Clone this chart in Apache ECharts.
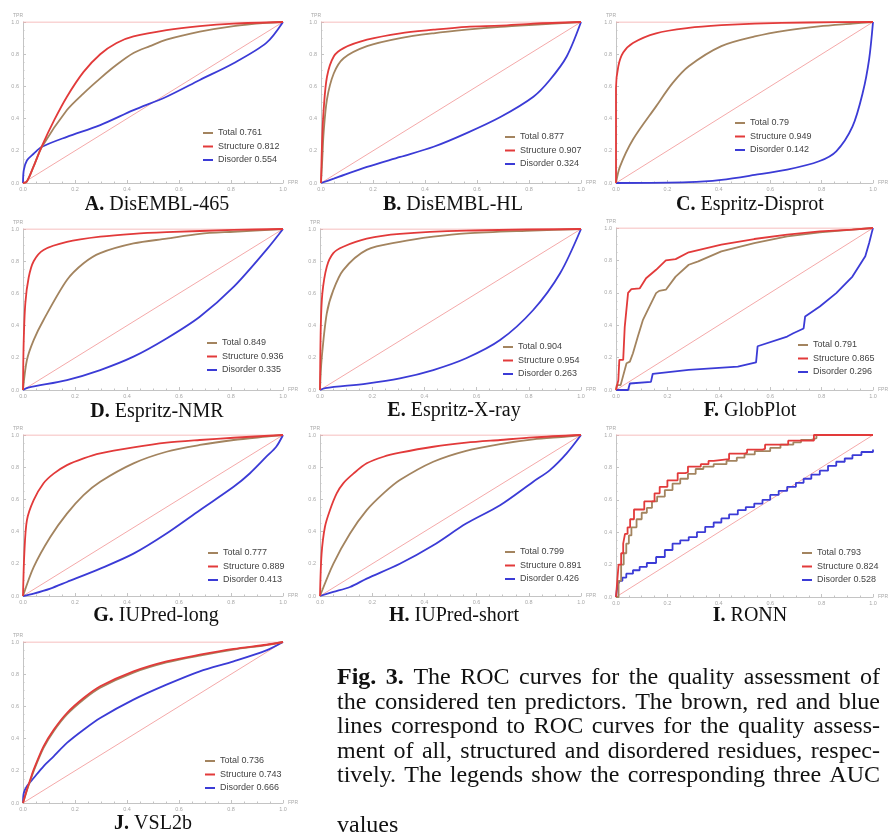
<!DOCTYPE html>
<html><head><meta charset="utf-8">
<script src="https://cdn.jsdelivr.net/npm/echarts@6/dist/echarts.min.js"></script>
<style>html,body{margin:0;padding:0;background:#fff}#c{width:889px;height:834px}</style>
</head><body><div id="c"></div>
<script>
// ---------------- DATA ----------------
const panelLetters = ['A.','B.','C.','D.','E.','F.','G.','H.','I.','J.'];
const panelNames = ['DisEMBL-465','DisEMBL-HL','Espritz-Disprot','Espritz-NMR','Espritz-X-ray','GlobPlot','IUPred-long','IUPred-short','RONN','VSL2b'];
const seriesLabels = ['Total','Structure','Disorder'];
const aucTotal = [0.761,0.877,0.79,0.849,0.904,0.791,0.777,0.799,0.793,0.736];
const aucStructure = [0.812,0.907,0.949,0.936,0.954,0.865,0.889,0.891,0.824,0.743];
const aucDisorder = [0.554,0.324,0.142,0.335,0.263,0.296,0.413,0.426,0.528,0.666];
const tickLabels = ['0.0','0.2','0.4','0.6','0.8','1.0'];
const refTop = [[0,1],[1,1]];
const refDiag = [[0,0],[1,1]];

// A. DisEMBL-465
const totalA = [[0,0],[0.015,0.01],[0.04,0.1],[0.073,0.225],[0.169,0.453],[0.233,0.557],[0.297,0.65],[0.36,0.734],[0.425,0.807],[0.488,0.85],[0.552,0.89],[0.68,0.94],[0.81,0.975],[0.936,0.995],[1,1]];
const structA = [[0,0],[0.015,0.01],[0.04,0.1],[0.073,0.23],[0.12,0.39],[0.169,0.536],[0.233,0.69],[0.297,0.80],[0.36,0.87],[0.425,0.91],[0.552,0.95],[0.68,0.975],[0.81,0.99],[1,1]];
const disordA = [[0,0],[0.003,0.08],[0.015,0.14],[0.04,0.18],[0.073,0.225],[0.169,0.287],[0.297,0.36],[0.425,0.453],[0.552,0.536],[0.68,0.64],[0.81,0.744],[0.936,0.87],[1,1]];
// B. DisEMBL-HL
const totalB = [[0,0],[0.005,0.15],[0.01,0.31],[0.023,0.52],[0.049,0.68],[0.087,0.775],[0.177,0.85],[0.305,0.90],[0.433,0.93],[0.56,0.952],[0.69,0.97],[0.817,0.983],[1,1]];
const structB = [[0,0],[0.004,0.25],[0.01,0.45],[0.023,0.66],[0.049,0.786],[0.087,0.838],[0.177,0.89],[0.305,0.93],[0.433,0.952],[0.56,0.97],[0.69,0.977],[0.817,0.99],[1,1]];
const disordB = [[0,0],[0.049,0.027],[0.177,0.10],[0.305,0.162],[0.433,0.225],[0.56,0.31],[0.69,0.41],[0.817,0.536],[0.88,0.64],[0.945,0.786],[1,1]];
// C. Espritz-Disprot
const totalC = [[0,0],[0.015,0.10],[0.066,0.27],[0.156,0.476],[0.22,0.62],[0.283,0.725],[0.41,0.85],[0.54,0.91],[0.666,0.948],[0.79,0.973],[0.92,0.99],[1,1]];
const structC = [[0,0],[0,0.59],[0.009,0.725],[0.028,0.81],[0.066,0.87],[0.156,0.93],[0.283,0.963],[0.41,0.98],[0.54,0.99],[0.75,0.997],[1,1]];
const disordC = [[0,0],[0.283,0.005],[0.41,0.02],[0.54,0.05],[0.666,0.083],[0.79,0.135],[0.857,0.197],[0.92,0.35],[0.96,0.56],[0.985,0.77],[1,1]];
// D. Espritz-NMR
const totalD = [[0,0],[0.015,0.186],[0.041,0.31],[0.079,0.435],[0.169,0.683],[0.233,0.787],[0.297,0.85],[0.425,0.91],[0.552,0.94],[0.68,0.97],[0.81,0.983],[1,1]];
const structD = [[0,0],[0.0025,0.29],[0.009,0.54],[0.022,0.70],[0.041,0.80],[0.079,0.87],[0.169,0.92],[0.297,0.952],[0.425,0.97],[0.552,0.98],[0.81,0.994],[1,1]];
const disordD = [[0,0],[0.02,0.015],[0.169,0.062],[0.297,0.124],[0.425,0.207],[0.552,0.32],[0.68,0.455],[0.81,0.64],[0.936,0.87],[1,1]];
// E. Espritz-X-ray
const totalE = [[0,0],[0.006,0.186],[0.026,0.476],[0.051,0.62],[0.089,0.745],[0.179,0.87],[0.306,0.92],[0.434,0.952],[0.56,0.973],[0.817,0.99],[1,1]];
const structE = [[0,0],[0.003,0.39],[0.009,0.60],[0.026,0.766],[0.051,0.85],[0.089,0.89],[0.179,0.94],[0.306,0.97],[0.56,0.99],[1,1]];
const disordE = [[0,0],[0.02,0.012],[0.179,0.04],[0.306,0.072],[0.434,0.124],[0.56,0.197],[0.69,0.31],[0.817,0.497],[0.92,0.725],[1,1]];
// F. GlobPlot
const totalF = [[0,0],[0.003,0.03],[0.018,0.03],[0.041,0.165],[0.054,0.175],[0.066,0.227],[0.085,0.33],[0.105,0.433],[0.13,0.515],[0.156,0.598],[0.168,0.612],[0.194,0.619],[0.232,0.70],[0.283,0.773],[0.32,0.794],[0.41,0.856],[0.538,0.907],[0.666,0.948],[0.793,0.973],[0.92,0.99],[1,1]];
const structF = [[0,0],[0.009,0.06],[0.013,0.186],[0.028,0.186],[0.034,0.39],[0.047,0.60],[0.06,0.623],[0.092,0.627],[0.117,0.69],[0.156,0.742],[0.194,0.80],[0.232,0.808],[0.283,0.85],[0.41,0.897],[0.538,0.932],[0.666,0.959],[0.793,0.979],[0.92,0.99],[1,1]];
const disordF = [[0,0],[0.047,0],[0.054,0.04],[0.136,0.05],[0.143,0.10],[0.283,0.124],[0.474,0.144],[0.545,0.17],[0.551,0.27],[0.666,0.33],[0.69,0.35],[0.73,0.38],[0.736,0.454],[0.793,0.515],[0.857,0.598],[0.92,0.70],[0.97,0.825],[0.985,0.907],[0.995,0.97],[1,1]];
// G. IUPred-long
const totalG = [[0,0],[0.041,0.18],[0.105,0.367],[0.169,0.512],[0.233,0.627],[0.297,0.71],[0.425,0.824],[0.552,0.896],[0.68,0.938],[0.81,0.969],[0.936,0.99],[1,1]];
const structG = [[0,0],[0.005,0.26],[0.015,0.47],[0.041,0.595],[0.079,0.70],[0.118,0.76],[0.169,0.813],[0.233,0.855],[0.297,0.886],[0.425,0.923],[0.552,0.952],[0.68,0.969],[0.81,0.983],[1,1]];
const disordG = [[0,0],[0.041,0.015],[0.105,0.046],[0.169,0.087],[0.297,0.17],[0.425,0.263],[0.552,0.388],[0.68,0.533],[0.81,0.678],[0.872,0.761],[0.936,0.865],[0.974,0.927],[1,1]];
// H. IUPred-short
const totalH = [[0,0],[0.051,0.20],[0.115,0.388],[0.179,0.533],[0.243,0.637],[0.306,0.72],[0.434,0.834],[0.56,0.902],[0.69,0.944],[0.817,0.973],[0.945,0.99],[1,1]];
const structH = [[0,0],[0.006,0.26],[0.019,0.43],[0.038,0.533],[0.064,0.637],[0.089,0.70],[0.128,0.76],[0.179,0.824],[0.243,0.865],[0.306,0.89],[0.434,0.927],[0.56,0.952],[0.69,0.969],[0.817,0.985],[1,1]];
const disordH = [[0,0],[0.051,0.025],[0.115,0.056],[0.179,0.108],[0.306,0.20],[0.434,0.315],[0.56,0.45],[0.69,0.564],[0.817,0.71],[0.881,0.782],[0.945,0.886],[1,1]];
// I. RONN
const totalI = [[0,0],[0.01,0.1],[0.02,0.2],[0.03,0.27],[0.04,0.33],[0.05,0.38],[0.06,0.43],[0.08,0.48],[0.1,0.52],[0.12,0.55],[0.14,0.59],[0.16,0.62],[0.19,0.66],[0.22,0.70],[0.25,0.73],[0.28,0.76],[0.31,0.79],[0.34,0.805],[0.38,0.82],[0.43,0.84],[0.47,0.86],[0.5,0.88],[0.54,0.9],[0.6,0.92],[0.64,0.94],[0.69,0.955],[0.72,0.97],[0.76,0.98],[0.78,1],[1,1]];
const structI = [[0,0],[0.005,0.1],[0.01,0.2],[0.02,0.27],[0.028,0.33],[0.035,0.39],[0.045,0.43],[0.055,0.48],[0.07,0.54],[0.1,0.54],[0.11,0.59],[0.14,0.59],[0.15,0.64],[0.17,0.68],[0.2,0.72],[0.23,0.72],[0.24,0.765],[0.27,0.77],[0.28,0.805],[0.33,0.82],[0.36,0.84],[0.38,0.85],[0.43,0.85],[0.44,0.885],[0.5,0.89],[0.51,0.91],[0.57,0.915],[0.58,0.94],[0.66,0.94],[0.67,0.965],[0.76,0.965],[0.77,1],[1,1]];
const disordI = [[0,0],[0.003,0.04],[0.008,0.08],[0.015,0.10],[0.025,0.12],[0.04,0.144],[0.066,0.165],[0.092,0.186],[0.12,0.21],[0.156,0.247],[0.19,0.29],[0.22,0.33],[0.25,0.35],[0.283,0.37],[0.315,0.40],[0.347,0.433],[0.38,0.46],[0.41,0.485],[0.44,0.51],[0.474,0.536],[0.505,0.555],[0.538,0.577],[0.57,0.60],[0.60,0.63],[0.633,0.655],[0.666,0.68],[0.70,0.705],[0.73,0.73],[0.76,0.755],[0.793,0.78],[0.825,0.81],[0.857,0.835],[0.89,0.855],[0.92,0.876],[0.955,0.895],[1,0.911]];
// J. VSL2b
const totalJ = [[0,0],[0.015,0.078],[0.028,0.138],[0.041,0.198],[0.079,0.342],[0.118,0.446],[0.169,0.55],[0.233,0.643],[0.297,0.716],[0.425,0.81],[0.552,0.873],[0.68,0.916],[0.81,0.953],[0.936,0.981],[1,1]];
const structJ = [[0,0],[0.015,0.083],[0.028,0.145],[0.041,0.207],[0.079,0.352],[0.118,0.455],[0.169,0.559],[0.233,0.652],[0.297,0.725],[0.425,0.818],[0.552,0.88],[0.68,0.921],[0.81,0.957],[0.936,0.983],[1,1]];
const disordJ = [[0,0],[0.003,0.062],[0.015,0.104],[0.041,0.155],[0.079,0.228],[0.118,0.29],[0.169,0.373],[0.233,0.455],[0.297,0.528],[0.425,0.642],[0.552,0.735],[0.68,0.818],[0.81,0.88],[0.936,0.948],[1,1]];

const totalCurves = [totalA,totalB,totalC,totalD,totalE,totalF,totalG,totalH,totalI,totalJ];
const structCurves = [structA,structB,structC,structD,structE,structF,structG,structH,structI,structJ];
const disordCurves = [disordA,disordB,disordC,disordD,disordE,disordF,disordG,disordH,disordI,disordJ];

const captionLines = [
  'Fig. 3. The ROC curves for the quality assessment of',
  'the considered ten predictors. The brown, red and blue',
  'lines correspond to ROC curves for the quality assess-',
  'ment of all, structured and disordered residues, respec-',
  'tively. The legends show the corresponding three AUC',
  'values'
];

// ---------------- LAYOUT / STYLE ----------------
const layout = [
  {g:[23,22,260,161],  leg:[203,128], cap:[157,212], mode:'smooth'},
  {g:[321,22,260,161], leg:[505,132], cap:[453,212], mode:'smooth'},
  {g:[616,22,261,161], leg:[735,118], cap:[750,212], mode:'smooth'},
  {g:[23,229,260,161], leg:[207,338], cap:[157,419], mode:'smooth'},
  {g:[320,229,261,161],leg:[503,342], cap:[454,418], mode:'smooth'},
  {g:[616,228,261,162],leg:[798,340], cap:[750,418], mode:'none'},
  {g:[23,435,260,161], leg:[208,548], cap:[156,623], mode:'smooth'},
  {g:[320,435,261,161],leg:[505,547], cap:[454,623], mode:'smooth'},
  {g:[616,435,261,162],leg:[802,548], cap:[750,623], mode:'step'},
  {g:[23,642,260,161], leg:[205,756], cap:[153,831], mode:'smooth'}
];
const COL = {total:'#a3845f', struct:'#e23a3a', disord:'#3b3bd6', ref:'#f4a9a9', axis:'#c4c4c4', tick:'#a8a8a8'};
const SANS = 'Liberation Sans';
const SERIF = 'Liberation Serif';

const chart = echarts.init(document.getElementById('c'), null, {renderer:'canvas'});
const grid = [], xAxis = [], yAxis = [], series = [], legend = [], elements = [];

function mkSeries(name, data, color, gi, mode, width, z) {
  const s = {type:'line', name, data, xAxisIndex:gi, yAxisIndex:gi, symbol:'none', showSymbol:false,
    lineStyle:{color, width}, itemStyle:{color}, silent:true, z, animation:false};
  if (mode === 'smooth') { s.smooth = 0.3; }
  if (mode === 'step') s.step = 'end';
  return s;
}

layout.forEach((L, i) => {
  grid.push({left:L.g[0], top:L.g[1], width:L.g[2], height:L.g[3], containLabel:false});
  const common = {gridIndex:i, type:'value', min:0, max:1, interval:0.2,
    axisLine:{show:true, onZero:false, lineStyle:{color:COL.axis, width:1}},
    axisTick:{show:true, inside:true, length:3, lineStyle:{color:COL.axis}},
    minorTick:{show:true, splitNumber:4, length:1.5, lineStyle:{color:COL.axis}},
    splitLine:{show:false},
    axisLabel:{fontSize:5.5, color:COL.tick, fontFamily:SANS, formatter:(v)=>tickLabels[Math.round(v/0.2)]},
    nameTextStyle:{fontSize:5, color:COL.tick, fontFamily:SANS}};
  xAxis.push(Object.assign({}, common, {name:'FPR', nameLocation:'end', nameGap:5,
    axisLabel:Object.assign({}, common.axisLabel, {margin:3})}));
  yAxis.push(Object.assign({}, common, {name:'TPR', nameLocation:'end', nameGap:4,
    nameTextStyle:Object.assign({}, common.nameTextStyle, {align:'right'}),
    axisLabel:Object.assign({}, common.axisLabel, {margin:4})}));

  const nT = seriesLabels[0] + ' ' + aucTotal[i];
  const nS = seriesLabels[1] + ' ' + aucStructure[i];
  const nD = seriesLabels[2] + ' ' + aucDisorder[i];
  series.push(mkSeries('refTop'+i, refTop, COL.ref, i, 'none', 1, 1));
  series.push(mkSeries('refDiag'+i, refDiag, COL.ref, i, 'none', 1, 1));
  series.push(mkSeries(nD, disordCurves[i], COL.disord, i, L.mode, 1.8, 2));
  series.push(mkSeries(nT, totalCurves[i], COL.total, i, L.mode, 1.8, 3));
  series.push(mkSeries(nS, structCurves[i], COL.struct, i, L.mode, 1.8, 4));

  legend.push({data:[nT, nS, nD], orient:'vertical', left:L.leg[0], top:L.leg[1], padding:0,
    itemWidth:10, itemHeight:2, itemGap:3.5, icon:'rect', selectedMode:false,
    textStyle:{fontSize:9, lineHeight:10, color:'#444', fontFamily:SANS}});
});

// text measurement for captions
const mctx = document.createElement('canvas').getContext('2d');
function wOf(t, size, bold) { mctx.font = (bold ? 'bold ' : '') + size + 'px ' + SERIF; return mctx.measureText(t).width; }
function addWord(t, x, baseline, size, bold) {
  elements.push({type:'text', x, y:baseline - size*0.34, silent:true,
    style:{text:t, fontSize:size, fontFamily:SERIF, fontWeight:bold ? 'bold' : 'normal', fill:'#111', align:'left', verticalAlign:'middle'}});
}

// panel captions
layout.forEach((L, i) => {
  const sz = 20;
  const w1 = wOf(panelLetters[i] + ' ', sz, true), w2 = wOf(panelNames[i], sz, false);
  const x0 = L.cap[0] - (w1 + w2)/2;
  addWord(panelLetters[i], x0, L.cap[1], sz, true);
  addWord(panelNames[i], x0 + w1, L.cap[1], sz, false);
});

// figure caption paragraph (justified)
const parLeft = 337, parRight = 880, parSize = 24;
const parBase = [686, 710.5, 735, 759.5, 784, 834];
captionLines.forEach((line, li) => {
  const words = line.split(' ');
  const bolds = words.map((w, k) => li === 0 && k < 2);
  const widths = words.map((w, k) => wOf(w, parSize, bolds[k]));
  const sum = widths.reduce((a, b) => a + b, 0);
  const last = li === captionLines.length - 1;
  const gap = last ? wOf(' ', parSize, false) : (parRight - parLeft - sum) / (words.length - 1);
  let x = parLeft;
  words.forEach((w, k) => { addWord(w, x, parBase[li], parSize, bolds[k]); x += widths[k] + gap; });
});

chart.setOption({
  animation:false, backgroundColor:'#fff',
  grid, xAxis, yAxis, series, legend,
  graphic:{elements}
});
</script></body></html>
